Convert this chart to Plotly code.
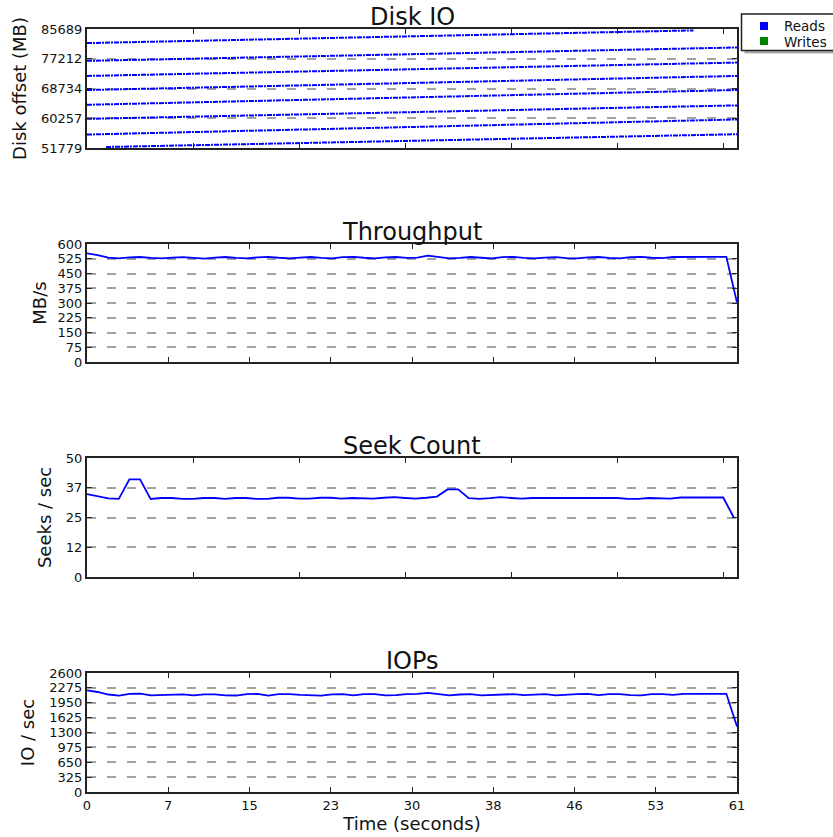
import plotly.graph_objects as go

W, H = 833, 837

# ---------------- data ----------------
times = list(range(62))

throughput = [552, 544, 531, 527, 532, 534, 529, 527, 531, 533,
              529, 526, 531, 534, 529, 527, 532, 535, 530, 527,
              531, 534, 529, 527, 533, 535, 530, 527, 532, 534,
              529, 531, 541, 533, 527, 529, 534, 530, 527, 533,
              535, 529, 527, 531, 533, 528, 527, 532, 534, 529,
              527, 533, 535, 530, 528, 534, 535, 535, 535, 535,
              535, 302]

seeks = [34.8, 33.8, 33.0, 32.8, 41.0, 41.0, 32.8, 33.2, 33.2, 32.8,
         32.8, 33.2, 33.2, 32.8, 33.2, 33.2, 32.8, 32.8, 33.3, 33.3,
         32.9, 32.9, 33.3, 33.3, 32.9, 33.2, 33.2, 32.9, 33.3, 33.6,
         33.2, 32.9, 33.3, 33.8, 36.8, 36.8, 33.1, 32.8, 33.1, 33.6,
         33.2, 32.9, 33.2, 33.2, 32.9, 32.9, 33.2, 33.2, 32.9, 33.2,
         33.2, 32.8, 32.8, 33.2, 33.2, 32.9, 33.4, 33.4, 33.4, 33.4,
         33.4, 25.0]

iops = [2222, 2185, 2130, 2105, 2145, 2150, 2110, 2112, 2130, 2132,
        2110, 2135, 2135, 2110, 2108, 2140, 2142, 2105, 2138, 2140,
        2120, 2108, 2105, 2135, 2140, 2110, 2140, 2140, 2110, 2118,
        2140, 2142, 2165, 2140, 2110, 2130, 2140, 2112, 2122, 2140,
        2138, 2115, 2132, 2140, 2110, 2128, 2140, 2142, 2115, 2138,
        2140, 2118, 2110, 2140, 2140, 2120, 2145, 2145, 2145, 2145,
        2145, 1430]

# Disk IO read streams (offset bands): start/end time and offset in MB
disk_t_start = [0, 0, 0, 0, 0, 0, 0, 1.8]
disk_t_end = [57.2, 61.3, 61.3, 61.3, 61.3, 61.3, 61.3, 61.3]
disk_mb_start = [81680, 76610, 72314, 68305, 64095, 60085, 55617, 52066]
disk_mb_end = [85288, 80419, 76123, 72314, 68305, 63923, 59913, 55703]

disk_ticks = [51779, 60256.5, 68734, 77211.5, 85689]
disk_ticktext = ["51779", "60257", "68734", "77212", "85689"]
tp_ticks = [0, 75, 150, 225, 300, 375, 450, 525, 600]
seek_ticks = [0, 12.5, 25, 37.5, 50]
seek_ticktext = ["0", "12", "25", "37", "50"]
iops_ticks = [0, 325, 650, 975, 1300, 1625, 1950, 2275, 2600]
time_ticks = [0, 7.625, 15.25, 22.875, 30.5, 38.125, 45.75, 53.375, 61]
time_ticktext = ["0", "7", "15", "23", "30", "38", "46", "53", "61"]
ten_sec_ticks = [0, 10, 20, 30, 40, 50, 60]

titles = ["Disk IO", "Throughput", "Seek Count", "IOPs"]
ylabels = ["Disk offset (MB)", "MB/s", "Seeks / sec", "IO / sec"]
legend_names = ["Reads", "Writes"]
legend_colors = ["#0000ff", "#008000"]

# ---------------- layout helpers ----------------
FONT = "DejaVu Sans"
BLUE = "#0000ff"
GRID = "#a3a3a3"
TXT = "#111"
panels = [(29, 148), (244, 362), (458, 577), (673, 792)]   # px (top, bottom)
xl, xr = 87, 737
ystandoffs = [10, 6, 10, 10]


def px_x(px):
    return px / W


def px_y(py):
    return 1 - py / H


fig = go.Figure()

for ts, te, ms, me in zip(disk_t_start, disk_t_end, disk_mb_start, disk_mb_end):
    fig.add_trace(go.Scatter(x=[ts, te], y=[ms, me], mode="lines",
                             line=dict(color=BLUE, width=2, dash="5px,1px,2px,1px"),
                             showlegend=False, hoverinfo="skip", xaxis="x", yaxis="y"))

fig.add_trace(go.Scatter(x=times, y=throughput, mode="lines", name="Throughput",
                         line=dict(color=BLUE, width=1.8), showlegend=False,
                         xaxis="x2", yaxis="y2"))
fig.add_trace(go.Scatter(x=times, y=seeks, mode="lines", name="Seek Count",
                         line=dict(color=BLUE, width=1.8), showlegend=False,
                         xaxis="x3", yaxis="y3"))
fig.add_trace(go.Scatter(x=times, y=iops, mode="lines", name="IOPs",
                         line=dict(color=BLUE, width=1.8), showlegend=False,
                         xaxis="x4", yaxis="y4"))

tickfont = dict(family=FONT, size=13, color=TXT)
common_axis = dict(showline=True, linecolor="#222", linewidth=2, mirror="ticks",
                   ticks="inside", ticklen=5, tickwidth=1, tickcolor="#222",
                   zeroline=False, tickfont=tickfont, fixedrange=True)

xaxes = [
    dict(range=[0, 61.3], tickvals=ten_sec_ticks, showticklabels=False, showgrid=False),
    dict(range=[0, 61], tickvals=time_ticks, showticklabels=False, showgrid=False),
    dict(range=[0, 61.3], tickvals=ten_sec_ticks, showticklabels=False, showgrid=False),
    dict(range=[0, 61], tickvals=time_ticks, ticktext=time_ticktext, showgrid=False,
         title=dict(text="Time (seconds)", font=dict(family=FONT, size=18, color=TXT),
                    standoff=5)),
]
yaxes = [
    dict(range=[51779, 85689], tickvals=disk_ticks, ticktext=disk_ticktext),
    dict(range=[0, 600], tickvals=tp_ticks),
    dict(range=[0, 50], tickvals=seek_ticks, ticktext=seek_ticktext),
    dict(range=[0, 2600], tickvals=iops_ticks),
]

layout = dict(
    width=W, height=H,
    margin=dict(l=0, r=0, t=0, b=0, autoexpand=False),
    paper_bgcolor="white", plot_bgcolor="white",
    font=dict(family=FONT, color=TXT),
    showlegend=False,
    annotations=[],
    shapes=[],
)

for i in range(4):
    sfx = "" if i == 0 else str(i + 1)
    top, bot = panels[i]
    xa = dict(common_axis, domain=[px_x(xl), px_x(xr)], anchor="y" + sfx, **xaxes[i])
    ya = dict(common_axis, domain=[px_y(bot), px_y(top)], anchor="x" + sfx,
              showgrid=True, gridcolor=GRID, gridwidth=1.6, griddash="9px,11px",
              title=dict(text=ylabels[i], font=dict(family=FONT, size=18, color=TXT),
                         standoff=ystandoffs[i]),
              **yaxes[i])
    layout["xaxis" + sfx] = xa
    layout["yaxis" + sfx] = ya
    layout["annotations"].append(dict(
        text=titles[i], x=px_x((xl + xr) / 2), y=px_y(top), xref="paper", yref="paper",
        xanchor="center", yanchor="bottom", showarrow=False, yshift=-4,
        font=dict(family=FONT, size=24, color=TXT)))

# ---- legend box (drawn): shadow, frame, swatches, labels ----
lg_l, lg_t, lg_b = 741.5, 14, 50.5
layout["shapes"].append(dict(type="rect", xref="paper", yref="paper",
                             x0=px_x(lg_l + 3), x1=px_x(850), y0=px_y(lg_b + 3), y1=px_y(lg_t + 3),
                             fillcolor="#aaaaaa", line=dict(width=0), layer="above"))
layout["shapes"].append(dict(type="rect", xref="paper", yref="paper",
                             x0=px_x(lg_l), x1=px_x(846), y0=px_y(lg_b), y1=px_y(lg_t),
                             fillcolor="white", line=dict(width=1.5, color="#222"),
                             layer="above"))
for j, (name, col) in enumerate(zip(legend_names, legend_colors)):
    cy = 26 + 15 * j
    layout["shapes"].append(dict(type="rect", xref="paper", yref="paper",
                                 x0=px_x(760), x1=px_x(768), y0=px_y(cy + 4), y1=px_y(cy - 4),
                                 fillcolor=col, line=dict(width=0), layer="above"))
    layout["annotations"].append(dict(
        text=name, x=px_x(782), y=px_y(cy + 0.5), xref="paper", yref="paper",
        xanchor="left", yanchor="middle", showarrow=False,
        font=dict(family=FONT, size=13.5, color=TXT)))

fig.update_layout(**layout)
fig.write_html("out.html",
               config={"displayModeBar": False},
               post_script="document.body.style.margin='0px';"
                           "document.body.style.overflow='hidden';")
